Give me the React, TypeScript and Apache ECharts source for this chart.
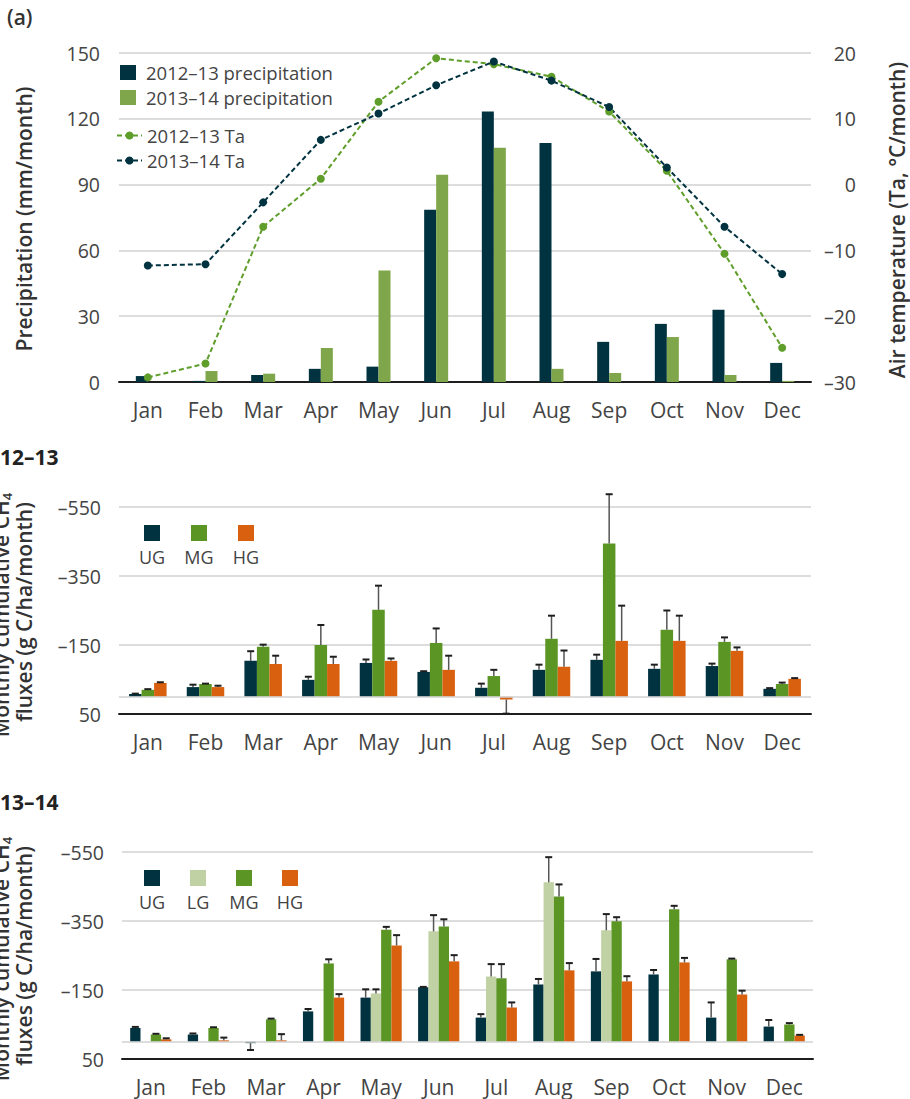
import React, { useEffect, useRef } from "react";
import * as echarts from "echarts";

// ---------- data ----------
const months = ["Jan", "Feb", "Mar", "Apr", "May", "Jun", "Jul", "Aug", "Sep", "Oct", "Nov", "Dec"];

// panel (a): precipitation (mm/month) and air temperature (°C)
const precip1213 = [2.7, 0.5, 3.2, 6, 7, 78.5, 123.3, 109, 18.3, 26.5, 32.9, 8.7];
const precip1314 = [0, 5, 3.8, 15.5, 50.8, 94.5, 106.8, 6, 4.1, 20.5, 3.2, 0.5];
const ta1213 = [-29.3, -27.2, -6.4, 0.9, 12.6, 19.2, 18.3, 16.4, 11.1, 2.1, -10.5, -24.8];
const ta1314 = [-12.3, -12.1, -2.7, 6.8, 10.8, 15.1, 18.7, 15.8, 11.8, 2.6, -6.4, -13.6];

// panel 2012–13: monthly cumulative CH4 fluxes (g C/ha/month) and error magnitudes
const ug1213 = [-8, -28, -104, -49, -98, -72, -26, -78, -107, -81, -89, -23];
const ug1213Err = [1, 7, 28, 9, 10, 2, 12, 15, 15, 12, 7, 2];
const mg1213 = [-20, -37, -145, -150, -252, -156, -60, -168, -444, -194, -159, -37];
const mg1213Err = [2, 1, 6, 58, 70, 42, 18, 67, 143, 56, 13, 4];
const hg1213 = [-40, -28, -95, -95, -104, -78, 8, -87, -162, -162, -133, -52];
const hg1213Err = [2, 4, 24, 21, 7, 41, 41, 47, 102, 73, 10, 2];

// panel 2013–14
const ug1314 = [-40, -21, 4, -88, -128, -158, -70, -166, -204, -195, -70, -44];
const ug1314Err = [3, 3, 20, 7, 24, 1, 10, 16, 36, 13, 44, 19];
const lg1314 = [null, null, null, null, -140, -320, -189, -462, -323, null, null, null];
const lg1314Err = [0, 0, 0, 0, 12, 47, 36, 73, 47, 0, 0, 0];
const mg1314 = [-21, -40, -65, -227, -325, -334, -184, -421, -349, -384, -239, -50];
const mg1314Err = [2, 2, 2, 12, 8, 21, 41, 35, 12, 10, 2, 4];
const hg1314 = [-7, -4, -4, -128, -279, -233, -99, -207, -175, -230, -137, -18];
const hg1314Err = [3, 8, 18, 10, 30, 18, 15, 21, 15, 13, 11, 2];

// tick settings
const precipTicks = { min: 0, max: 150, interval: 30 };
const taTicks = { min: -30, max: 20, interval: 10 };
const fluxTicks = { min: -550, max: 50, interval: 200 };

// ---------- style ----------
const FONT = '"Open Sans", "Noto Sans", sans-serif';
const C_DARK = "#01323f";
const C_PLIGHT = "#80a64b";
const C_TGREEN = "#5f9e2b";
const C_MG = "#5b9524";
const C_LG = "#c0d2a3";
const C_HG = "#d9600f";
const C_TEXT = "#444";
const C_TITLE = "#333";
const C_GRID = "#d2d2d2";

const fmtNum = (v: number) => (v < 0 ? "\u2013" + Math.abs(v) : String(v));

type Num = number | null;

function errData(vals: Num[], errs: number[], k: number) {
  const out: any[] = [];
  vals.forEach((v, i) => {
    if (v !== null && v !== undefined) out.push([i, v, errs[i], k]);
  });
  return out;
}

function makeErrRender(n: number, bw: number) {
  return (params: any, api: any) => {
    const cat = api.value(0);
    const v = api.value(1);
    const e = api.value(2);
    const k = api.value(3);
    const sign = v > 0 ? 1 : -1;
    const p0 = api.coord([cat, v]);
    const p1 = api.coord([cat, v + sign * e]);
    const x = p0[0] + (k - (n - 1) / 2) * bw;
    return {
      type: "group",
      children: [
        {
          type: "line",
          shape: { x1: x, y1: p0[1], x2: x, y2: p1[1] },
          style: { stroke: "#555", lineWidth: 1.5 },
        },
        {
          type: "line",
          shape: { x1: x - 3.5, y1: p1[1], x2: x + 3.5, y2: p1[1] },
          style: { stroke: "#1e1e1e", lineWidth: 2 },
        },
      ],
    };
  };
}

const xAxisBase = (gridIndex: number) => ({
  type: "category",
  gridIndex,
  data: months,
  boundaryGap: true,
  axisLine: { onZero: false, lineStyle: { color: "#1e1e1e", width: 2 } },
  axisTick: { alignWithLabel: true, length: 11, lineStyle: { color: "#cfcfcf", width: 2 } },
  axisLabel: { color: C_TEXT, fontSize: 21, fontFamily: FONT, margin: 17 },
  splitLine: { show: false },
});

const fluxYAxis = (gridIndex: number) => ({
  type: "value",
  gridIndex,
  inverse: true,
  ...fluxTicks,
  axisLine: { show: false },
  axisTick: { show: false },
  axisLabel: { color: C_TEXT, fontSize: 19.5, fontFamily: FONT, margin: 18, formatter: fmtNum },
  splitLine: { lineStyle: { color: C_GRID, width: 1.5 } },
});

const zeroLine = {
  silent: true,
  symbol: "none",
  label: { show: false },
  lineStyle: { color: C_GRID, width: 1.5, type: "solid" },
  data: [{ yAxis: 0 }],
};

function fluxBars(
  names: string[],
  colors: string[],
  vals: Num[][],
  errs: number[][],
  axisIdx: number,
  bw: number
) {
  const series: any[] = [];
  names.forEach((nm, k) => {
    series.push({
      name: nm,
      type: "bar",
      xAxisIndex: axisIdx,
      yAxisIndex: axisIdx + 1,
      data: vals[k],
      barWidth: bw,
      barGap: "0%",
      itemStyle: { color: colors[k] },
      markLine: k === 0 ? zeroLine : undefined,
      z: 2,
    });
  });
  const all: any[] = [];
  vals.forEach((v, k) => all.push(...errData(v, errs[k], k)));
  series.push({
    type: "custom",
    xAxisIndex: axisIdx,
    yAxisIndex: axisIdx + 1,
    clip: false,
    dimensions: ["x", "y", "e", "k"],
    encode: { x: 0, y: 1 },
    renderItem: makeErrRender(names.length, bw),
    data: all,
    z: 3,
  });
  return series;
}

function legendBlock(items: { name: string; color: string }[], x0: number, y0: number, step: number) {
  const els: any[] = [];
  items.forEach((it, i) => {
    const x = x0 + i * step;
    els.push({ type: "rect", shape: { x, y: y0, width: 16, height: 16 }, style: { fill: it.color } });
    els.push({
      type: "text",
      x: x + 8,
      y: y0 + 32,
      style: {
        text: it.name,
        fill: C_TEXT,
        font: `18px ${FONT}`,
        textAlign: "center",
        textVerticalAlign: "middle",
      },
    });
  });
  return els;
}

function rotTitle(text: string, x: number, y: number, rich?: any) {
  return {
    type: "text",
    x,
    y,
    rotation: Math.PI / 2,
    style: {
      text,
      fill: C_TITLE,
      font: `600 21px ${FONT}`,
      textAlign: "center",
      textVerticalAlign: "middle",
      rich,
    },
  };
}

const subRich = {
  m: { fontSize: 21, fontWeight: 600, fontFamily: FONT, color: C_TITLE },
  s: { fontSize: 13, fontWeight: 600, fontFamily: FONT, color: C_TITLE, padding: [11, 0, 0, 0] },
};

export default function App() {
  const ref = useRef<HTMLDivElement>(null);
  useEffect(() => {
    if (!ref.current) return;
    const chart = echarts.init(ref.current, undefined, { renderer: "svg" });
    const option: any = {
      animation: false,
      textStyle: { fontFamily: FONT },
      grid: [
        { left: 119, top: 53, width: 692, height: 329 },
        { left: 119, top: 507, width: 692, height: 207 },
        { left: 122, top: 852, width: 691, height: 207 },
      ],
      legend: [
        {
          data: ["2012–13 precipitation", "2013–14 precipitation"],
          orient: "vertical",
          left: 120,
          top: 63,
          padding: 0,
          icon: "rect",
          itemWidth: 16,
          itemHeight: 15,
          itemGap: 6,
          selectedMode: false,
          textStyle: { color: C_TEXT, fontSize: 18.5, fontFamily: FONT, padding: [0, 0, 0, 5] },
        },
        {
          data: ["2012–13 Ta", "2013–14 Ta"],
          orient: "vertical",
          left: 116,
          top: 126,
          padding: 0,
          itemWidth: 25,
          itemHeight: 10,
          itemGap: 6,
          selectedMode: false,
          textStyle: { color: C_TEXT, fontSize: 18.5, fontFamily: FONT },
        },
      ],
      xAxis: [xAxisBase(0), xAxisBase(1), xAxisBase(2)],
      yAxis: [
        {
          type: "value",
          gridIndex: 0,
          ...precipTicks,
          axisLine: { show: false },
          axisTick: { show: false },
          axisLabel: { color: C_TEXT, fontSize: 19.5, fontFamily: FONT, margin: 19 },
          splitLine: { lineStyle: { color: C_GRID, width: 1.5 } },
        },
        {
          type: "value",
          gridIndex: 0,
          position: "right",
          ...taTicks,
          axisLine: { show: false },
          axisTick: { show: false },
          axisLabel: {
            color: C_TEXT,
            fontSize: 19.5,
            fontFamily: FONT,
            margin: 45,
            align: "right",
            formatter: fmtNum,
          },
          splitLine: { show: false },
        },
        fluxYAxis(1),
        fluxYAxis(2),
      ],
      series: [
        {
          name: "2012–13 precipitation",
          type: "bar",
          xAxisIndex: 0,
          yAxisIndex: 0,
          data: precip1213,
          barWidth: 12,
          barGap: "0%",
          itemStyle: { color: C_DARK },
        },
        {
          name: "2013–14 precipitation",
          type: "bar",
          xAxisIndex: 0,
          yAxisIndex: 0,
          data: precip1314,
          barWidth: 12,
          barGap: "0%",
          itemStyle: { color: C_PLIGHT },
        },
        {
          name: "2012–13 Ta",
          type: "line",
          xAxisIndex: 0,
          yAxisIndex: 1,
          data: ta1213,
          symbol: "circle",
          symbolSize: 8,
          lineStyle: { color: C_TGREEN, width: 2, type: [5, 3] },
          itemStyle: { color: C_TGREEN },
          z: 5,
        },
        {
          name: "2013–14 Ta",
          type: "line",
          xAxisIndex: 0,
          yAxisIndex: 1,
          data: ta1314,
          symbol: "circle",
          symbolSize: 8,
          lineStyle: { color: C_DARK, width: 2, type: [5, 3] },
          itemStyle: { color: C_DARK },
          z: 5,
        },
      ],
      graphic: [] as any[],
    };

    const p2 = fluxBars(
      ["UG 2012–13", "MG 2012–13", "HG 2012–13"],
      [C_DARK, C_MG, C_HG],
      [ug1213, mg1213, hg1213],
      [ug1213Err, mg1213Err, hg1213Err],
      1,
      12.5
    );
    const p3 = fluxBars(
      ["UG 2013–14", "LG 2013–14", "MG 2013–14", "HG 2013–14"],
      [C_DARK, C_LG, C_MG, C_HG],
      [ug1314, lg1314, mg1314, hg1314],
      [ug1314Err, lg1314Err, mg1314Err, hg1314Err],
      2,
      10.3
    );
    option.series.push(...p2, ...p3);

    option.graphic = [
      {
        type: "text",
        left: 7,
        top: 6,
        style: { text: "(a)", fill: C_TITLE, font: `600 21px ${FONT}` },
      },
      {
        type: "text",
        left: 0,
        top: 446,
        style: { text: "12–13", fill: "#222", font: `700 21px ${FONT}` },
      },
      {
        type: "text",
        left: 0,
        top: 791,
        style: { text: "13–14", fill: "#222", font: `700 21px ${FONT}` },
      },
      rotTitle("Precipitation (mm/month)", 24, 219),
      rotTitle("Air temperature (Ta, °C/month)", 897, 220),
      rotTitle("{m|Monthly cumulative CH}{s|4}", 1, 615, subRich),
      rotTitle("fluxes (g C/ha/month)", 24, 612),
      rotTitle("{m|Monthly cumulative CH}{s|4}", 1, 959, subRich),
      rotTitle("fluxes (g C/ha/month)", 24, 956),
      ...legendBlock(
        [
          { name: "UG", color: C_DARK },
          { name: "MG", color: C_MG },
          { name: "HG", color: C_HG },
        ],
        144,
        525,
        47
      ),
      ...legendBlock(
        [
          { name: "UG", color: C_DARK },
          { name: "LG", color: C_LG },
          { name: "MG", color: C_MG },
          { name: "HG", color: C_HG },
        ],
        144,
        870,
        46
      ),
    ];

    chart.setOption(option);
    return () => chart.dispose();
  }, []);
  return (
    <div
      ref={ref}
      style={{ position: "absolute", left: 0, top: 0, width: 910, height: 1099, background: "#fff" }}
    />
  );
}
